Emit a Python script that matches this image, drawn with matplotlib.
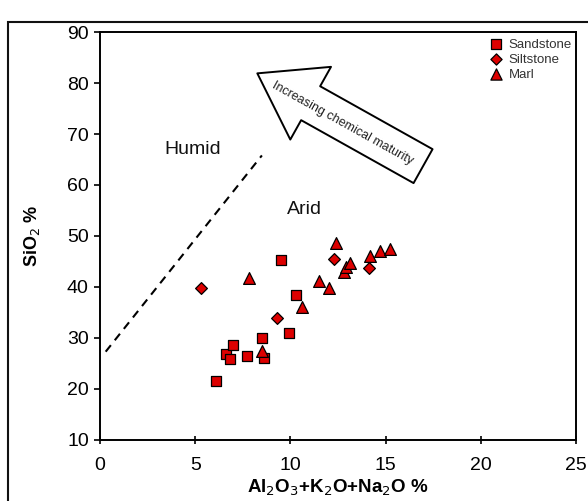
import matplotlib.pyplot as plt
from matplotlib.patches import FancyArrowPatch, Rectangle

plt.rcParams['font.family'] = ['Liberation Sans', 'DejaVu Sans']

# Al2O3+K2O+Na2O % vs SiO2 %
sand_x = [6.1, 6.6, 6.8, 7.0, 7.7, 8.5, 8.6, 9.5, 9.9, 10.3]
sand_y = [21.5, 26.8, 25.8, 28.7, 26.4, 30.0, 26.0, 45.2, 31.0, 38.4]

silt_x = [5.3, 9.3, 12.3, 14.1]
silt_y = [39.7, 34.0, 45.4, 43.8]

marl_x = [7.8, 8.5, 10.6, 11.5, 12.0, 12.4, 12.8, 12.9, 13.1, 14.2, 14.7, 15.2]
marl_y = [41.7, 27.5, 36.0, 41.1, 39.7, 48.6, 43.0, 44.0, 44.6, 46.1, 47.0, 47.4]

boundary_x = [0.3, 8.5]
boundary_y = [27.3, 65.8]

red = '#dd0000'

fig = plt.figure(figsize=(5.88, 5.01), dpi=100)
ax = fig.add_axes([0.170, 0.122, 0.810, 0.814])

# frame round the whole figure
fig.patches.append(Rectangle((8 / 588, -0.1), 1.2, 1.078 - 11 / 501,
                             transform=fig.transFigure, fill=False,
                             ec='#111111', lw=1.5))

ax.scatter(sand_x, sand_y, marker='s', s=52, c=red, edgecolors='black',
           linewidths=0.9, label='Sandstone', zorder=3)
ax.scatter(silt_x, silt_y, marker='D', s=36, c=red, edgecolors='black',
           linewidths=0.9, label='Siltstone', zorder=3)
ax.scatter(marl_x, marl_y, marker='^', s=72, c=red, edgecolors='black',
           linewidths=0.9, label='Marl', zorder=3)

ax.plot(boundary_x, boundary_y, color='black', ls=(0, (4, 3)), lw=1.5)

ax.text(4.85, 66.9, 'Humid', fontsize=14, ha='center', va='center',
        color='#111111')
ax.text(10.75, 55.1, 'Arid', fontsize=14, ha='center', va='center',
        color='#111111')

arrow = FancyArrowPatch((16.96, 63.7), (8.26, 81.9),
                        arrowstyle='simple,head_length=44,head_width=60,tail_width=28',
                        mutation_scale=1, shrinkA=0, shrinkB=0,
                        fc='white', ec='black', lw=1.4, zorder=2)
ax.add_patch(arrow)
ax.text(12.75, 72.0, 'Increasing chemical maturity', fontsize=9, rotation=-29,
        rotation_mode='anchor', ha='center', va='center', color='#222222',
        zorder=4)

ax.set_xlim(0, 25)
ax.set_ylim(10, 90)
ax.set_xticks([0, 5, 10, 15, 20, 25])
ax.set_yticks([10, 20, 30, 40, 50, 60, 70, 80, 90])
ax.tick_params(axis='y', direction='out', length=4, width=1.2, pad=4,
               labelsize=14)
ax.tick_params(axis='x', direction='inout', length=6, width=1.2, pad=9,
               labelsize=14)
for sp in ax.spines.values():
    sp.set_linewidth(1.4)

ax.set_xlabel('Al$_2$O$_3$+K$_2$O+Na$_2$O %', fontsize=13.5, fontweight='bold',
              labelpad=3)
ax.set_ylabel('SiO$_2$ %', fontsize=13, fontweight='bold', labelpad=18)

leg = ax.legend(loc='upper right', bbox_to_anchor=(1.005, 1.0), frameon=False,
                fontsize=9.5, handletextpad=0.4, labelspacing=0.2,
                borderaxespad=0.1, handlelength=1.2, markerscale=0.95)
for t in leg.get_texts():
    t.set_color('#333333')

fig.savefig('out.png', dpi=100)
